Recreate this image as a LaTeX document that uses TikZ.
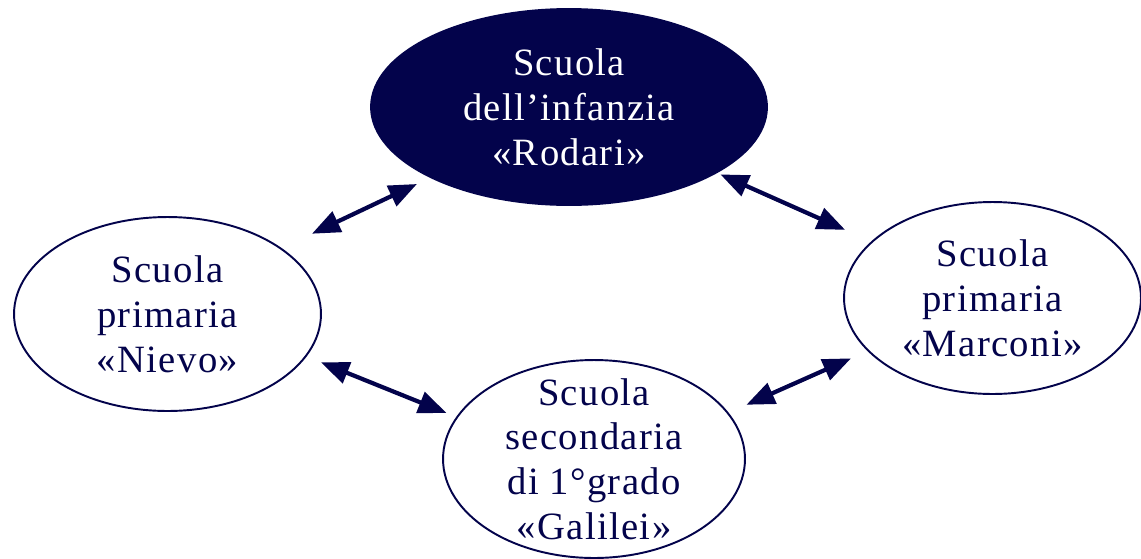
\documentclass[tikz,border=0pt]{standalone}
\usepackage{fontspec}
\setmainfont{Liberation Serif}[LetterSpace=3.5]
\usepackage{xcolor}
\usetikzlibrary{shapes.geometric,arrows.meta}
\definecolor{navy}{RGB}{3,3,75}

\tikzset{
    school/.style={ellipse, draw=navy, line width=1.1pt, inner xsep=0pt, inner ysep=-20pt,
        align=center, text=navy, font=\fontsize{22}{25.5}\selectfont},
    link/.style={{Triangle[length=16pt,width=12.5pt]}-{Triangle[length=16pt,width=12.5pt]},
        draw=navy, line width=2.4pt}
}

\begin{document}
\begin{tikzpicture}[x=0.02cm, y=-0.02cm]
    \useasboundingbox (0,0) rectangle (1141,558);

    \node[school, fill=navy, text=white, minimum width=7.92cm, minimum height=3.92cm] (rodari) at (569,107) {Scuola\\dell’infanzia\\«Rodari»};
    \node[school, minimum width=6.14cm, minimum height=3.88cm] (nievo) at (167.5,314) {Scuola\\primaria\\«Nievo»};
    \node[school, minimum width=5.94cm, minimum height=3.84cm] (marconi) at (992.5,298) {Scuola\\primaria\\«Marconi»};
    \node[school, minimum width=6.04cm, minimum height=3.96cm] (galilei) at (594,459) {Scuola\\secondaria\\di 1°grado\\«Galilei»};

    \draw[link, shorten <=0.67cm, shorten >=0.29cm] (nievo.30.4) -- (rodari.207);
    \draw[link, shorten <=0.07cm, shorten >=0.57cm] (rodari.336.5) -- (marconi.155.1);
    \draw[link, shorten <=0.31cm, shorten >=0.21cm] (nievo.343.8) -- (galilei.163.8);
    \draw[link, shorten <=0.39cm, shorten >=0.36cm] (galilei.19.7) -- (marconi.203.6);
\end{tikzpicture}
\end{document}
